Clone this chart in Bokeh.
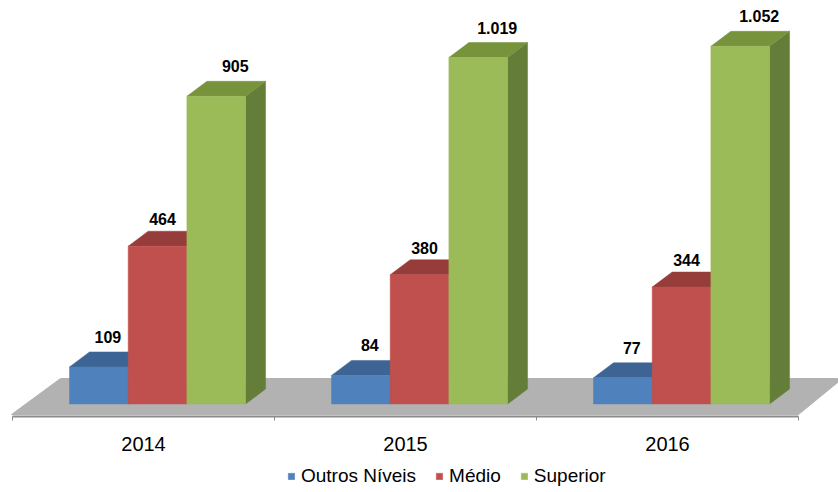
from bokeh.plotting import figure
from bokeh.models import Range1d, Legend, LegendItem
from bokeh.core.properties import value
from bokeh.embed import file_html
from bokeh.resources import INLINE

# ---- data ----
years = ["2014", "2015", "2016"]
series_names = ["Outros Níveis", "Médio", "Superior"]
outros = [109, 84, 77]
medio = [464, 380, 344]
superior = [905, 1019, 1052]
series_values = [outros, medio, superior]

# ---- styles ----
front_colors = ["#4F81BD", "#C0504D", "#9BBB59"]
top_colors = ["#3D6494", "#963D3B", "#77933C"]
side_colors = ["#35587F", "#7F3230", "#647E3A"]
label_dx = [9, 5, 19]       # screen px
label_dy = [-30, -27, -30]  # screen px
FONT = "Liberation Sans"
AXIS_COLOR = "#8C8C8C"

# ---- geometry (pixels) ----
W, H = 838, 492
PX_CAT = 262.0       # px per category
PX_VAL = 0.34        # px per unit
BASE_PX = 403.5      # canvas y of value 0
AXIS_PX = 416.0      # canvas y of category axis line
ORIGIN_PX = 12.0     # canvas x of category 0 boundary
DEPTH_X_PX, DEPTH_Y_PX = 20.0, 15.0

x0 = -ORIGIN_PX / PX_CAT
x1 = x0 + W / PX_CAT
y1 = BASE_PX / PX_VAL
y0 = y1 - H / PX_VAL

DX = DEPTH_X_PX / PX_CAT
DY = DEPTH_Y_PX / PX_VAL
BAR_W = 0.224
GROUP_START = 0.2176
n = len(years)

p = figure(width=W, height=H,
           x_range=Range1d(x0, x1), y_range=Range1d(y0, y1),
           output_backend="svg", toolbar_location=None,
           min_border=0)
p.outline_line_color = None
p.grid.visible = False
p.xaxis.visible = False
p.yaxis.visible = False
p.background_fill_color = "white"
p.border_fill_color = "white"

# floor (3D plane)
floor_front = -10.5 / PX_VAL
floor_back = 25.5 / PX_VAL
left_back = 48 / PX_CAT
right_back = n + 44 / PX_CAT
p.patch([-1 / PX_CAT, n, right_back, left_back],
        [floor_front, floor_front, floor_back, floor_back],
        fill_color="#B2B2B2", line_color="#B2B2B2", line_width=1)

legend_items = []
for i, (name, vals) in enumerate(zip(series_names, series_values)):
    lefts = [c + GROUP_START + i * BAR_W for c in range(n)]
    rights = [l + BAR_W for l in lefts]
    # side faces
    p.patches([[r, r + DX, r + DX, r] for r in rights],
              [[0, DY, v + DY, v] for v in vals],
              fill_color=side_colors[i], line_color=side_colors[i], line_width=0.5)
    # top faces
    p.patches([[l, r, r + DX, l + DX] for l, r in zip(lefts, rights)],
              [[v, v, v + DY, v + DY] for v in vals],
              fill_color=top_colors[i], line_color=top_colors[i], line_width=0.5)
    # front faces
    fr = p.quad(left=lefts, right=rights, bottom=[0] * n, top=vals,
                fill_color=front_colors[i], line_color=front_colors[i], line_width=0.5)
    legend_items.append(LegendItem(label=name, renderers=[fr]))
    # value labels
    texts = [f"{v:,}".replace(",", ".") for v in vals]
    p.text(x=[(l + r) / 2 for l, r in zip(lefts, rights)], y=vals, text=texts,
           x_offset=label_dx[i], y_offset=label_dy[i],
           text_align="center", text_baseline="middle",
           text_font=value(FONT), text_font_style="bold",
           text_font_size="16px", text_color="#000000")

# category axis (line, boundary ticks, centred labels)
axis_y = (BASE_PX - AXIS_PX) / PX_VAL
tick_len = 4 / PX_VAL
p.segment(x0=[0], y0=[axis_y], x1=[n], y1=[axis_y], line_color=AXIS_COLOR, line_width=2)
p.segment(x0=list(range(n + 1)), y0=[axis_y] * (n + 1),
          x1=list(range(n + 1)), y1=[axis_y - tick_len] * (n + 1),
          line_color=AXIS_COLOR, line_width=1)
p.text(x=[c + 0.5 for c in range(n)], y=[axis_y] * n, text=years,
       y_offset=27, text_align="center", text_baseline="middle",
       text_font=value(FONT), text_font_size="20px", text_color="#000000")

legend = Legend(items=legend_items, orientation="horizontal", location=(287, 5),
                glyph_width=8, glyph_height=8, label_standoff=6, spacing=19,
                label_text_font=FONT, label_text_font_size="19px",
                label_text_color="#000000",
                border_line_color=None, background_fill_alpha=0,
                padding=0, margin=0)
p.add_layout(legend)

open("out.html", "w").write(file_html(p, INLINE))
